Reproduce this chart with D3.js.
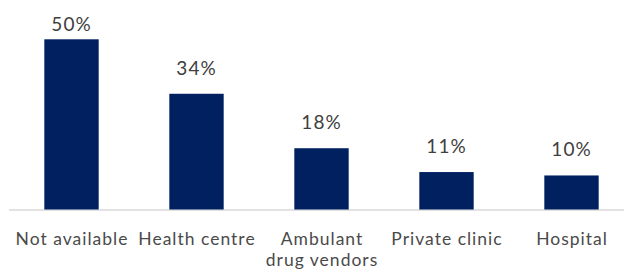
<!DOCTYPE html>
<html><head><meta charset="utf-8">
<script src="https://cdn.jsdelivr.net/npm/d3@7"></script>
<style>html,body{margin:0;padding:0;background:#fff;}svg{display:block;}</style>
</head><body>
<svg id="c" width="629" height="273"></svg>
<script>
const categories = [["Not available"], ["Health centre"], ["Ambulant", "drug vendors"], ["Private clinic"], ["Hospital"]];
const values = [50, 34, 18, 11, 10];
const valueLabels = ["50%", "34%", "18%", "11%", "10%"];

const W = 629, H = 273;
const baseY = 209.5;
const svg = d3.select("#c");
const x = d3.scaleBand().domain(d3.range(values.length)).range([9, 634]).paddingInner(0.565).paddingOuter(0.2825);
const y = d3.scaleLinear().domain([0, 50]).range([baseY, 39.3]);

svg.append("line").attr("x1", 9).attr("x2", 624).attr("y1", baseY + 0.5).attr("y2", baseY + 0.5)
  .attr("stroke", "#d9d9d9").attr("stroke-width", 1.3);

svg.selectAll("rect.bar").data(values).join("rect").attr("class", "bar")
  .attr("x", (d, i) => x(i)).attr("width", x.bandwidth())
  .attr("y", d => y(d)).attr("height", d => baseY - y(d))
  .attr("fill", "#002060");

const font = "Lato, 'Open Sans', sans-serif";
svg.selectAll("text.val").data(values).join("text").attr("class", "val")
  .attr("x", (d, i) => x(i) + x.bandwidth() / 2)
  .attr("y", d => Math.max(y(d) - 19, 31))
  .attr("text-anchor", "middle").attr("font-family", font).attr("font-size", 19)
  .attr("letter-spacing", 1).attr("fill", "#404040").text((d, i) => valueLabels[i]);

const cat = svg.selectAll("text.cat").data(categories).join("text").attr("class", "cat")
  .attr("text-anchor", "middle").attr("font-family", font).attr("font-size", 17.5)
  .attr("letter-spacing", 1).attr("fill", "#4a4a4a");
cat.each(function (lines, i) {
  const t = d3.select(this);
  lines.forEach((l, j) => {
    t.append("tspan").attr("x", x(i) + x.bandwidth() / 2 + 0.5).attr("y", 244.5 + j * 21.5).text(l);
  });
});
</script>
</body></html>
